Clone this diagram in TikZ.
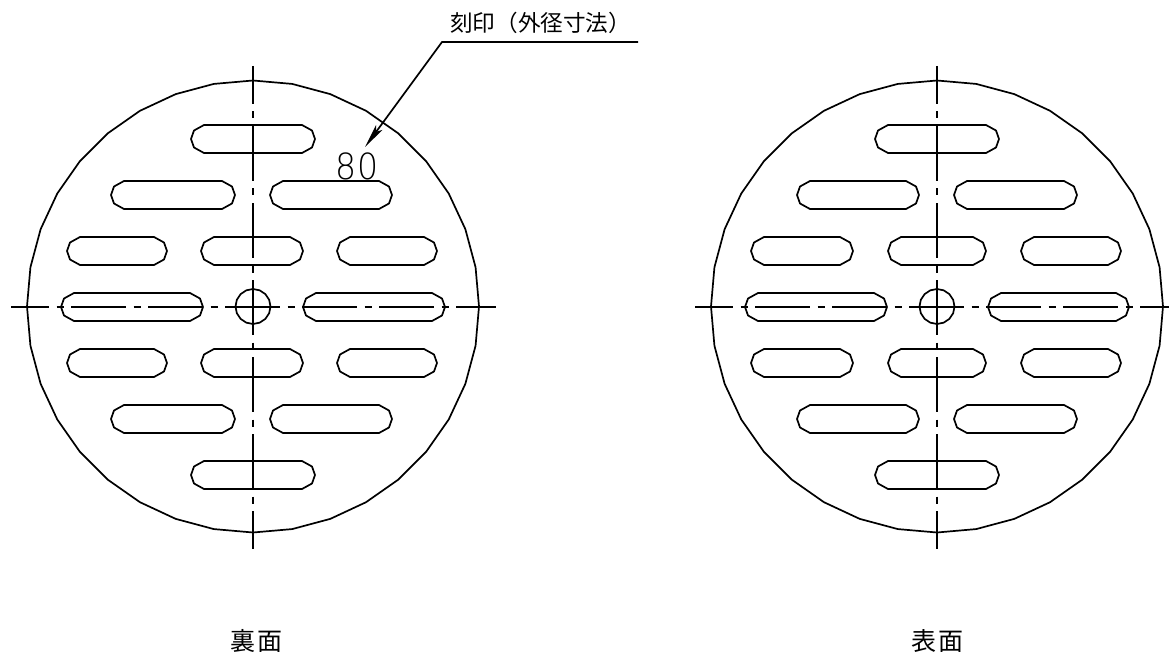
\documentclass[tikz,border=0pt]{standalone}
\usepackage{fontspec}
\usetikzlibrary{calc,arrows.meta}
\newfontfamily\cjk{Noto Sans CJK JP}
\newfontfamily\digits{DejaVu Sans ExtraLight}
\tikzset{
  part/.style={line width=1.7pt,line join=round},
  axis/.style={line width=1.9pt,dash pattern=on 55pt off 7.5pt on 7pt off 7.5pt,dash phase=17pt},
  leader/.style={line width=1.7pt,line join=miter},
  cap text/.style={inner sep=0pt,font=\cjk\fontsize{22.6pt}{24pt}\selectfont},
  view text/.style={inner sep=0pt,font=\cjk\fontsize{25pt}{27pt}\selectfont},
}
\newcommand{\slotat}[3]{%
  \draw[part] ({#1},#3) -- ({#1+3},#3-8.5) -- ({#1+13},#3-14) -- ({#2-13},#3-14) -- ({#2-3},#3-8.5) -- ({#2},#3)
    -- ({#2-3},#3+8.5) -- ({#2-13},#3+14) -- ({#1+13},#3+14) -- ({#1+3},#3+8.5) -- cycle;
}
\newcommand{\plate}[2]{%
  \coordinate (c#2) at (#1,306.5);
  \draw[part] ($(c#2)+(0:226)$)
    \foreach \a in {10,20,...,350}{ -- ($(c#2)+(\a:226)$) } -- cycle;
  \draw[part] ($(c#2)+(0:17.5)$)
    \foreach \a in {22.5,45,...,337.5}{ -- ($(c#2)+(\a:17.5)$) } -- cycle;
}
\begin{document}
\begin{tikzpicture}[x=1pt,y=-1pt]
\useasboundingbox (0,0) rectangle (1169,655);
% ---- left view
\plate{253}{L}
\slotat{191}{315}{139}
\slotat{111}{235}{195}\slotat{270}{392}{195}
\slotat{67}{167}{251}\slotat{201}{303}{251}\slotat{337}{437}{251}
\slotat{61}{203}{307}\slotat{303}{445}{307}
\slotat{67}{167}{363}\slotat{201}{303}{363}\slotat{337}{437}{363}
\slotat{111}{235}{419}\slotat{270}{392}{419}
\slotat{191}{315}{475}
\coordinate (lh0) at (11,307); \coordinate (lh1) at (496,307);
\coordinate (lv0) at (253,66); \coordinate (lv1) at (253,549);
\draw[axis] (lh0) -- (lh1);
\draw[axis] (lv0) -- (lv1);
% ---- right view
\plate{937}{R}
\slotat{875}{999}{139}
\slotat{797}{919}{195}\slotat{954}{1077}{195}
\slotat{751}{853}{251}\slotat{888}{986}{251}\slotat{1021}{1121}{251}
\slotat{745}{887}{307}\slotat{988}{1129}{307}
\slotat{751}{853}{363}\slotat{888}{986}{363}\slotat{1021}{1121}{363}
\slotat{797}{919}{419}\slotat{954}{1077}{419}
\slotat{875}{999}{475}
\coordinate (rh0) at (695,307); \coordinate (rh1) at (1169,307);
\coordinate (rv0) at (937,66); \coordinate (rv1) at (937,549);
\draw[axis] (rh0) -- (rh1);
\draw[axis] (rv0) -- (rv1);
% ---- stamp and leader
\node[inner sep=0pt,font=\digits\fontsize{36pt}{36pt}\selectfont,xscale=.92] (stamp) at (357,166) {8\hspace{1pt}0};
\node[cap text,anchor=west] (cap) at (450,23) {刻印（外径寸法）};
\coordinate (lead end) at (638,42);
\coordinate (lead knee) at (442,42);
\coordinate (lead tip) at (365,147);
\draw[leader,-{Stealth[length=24pt,width=8pt,inset=5pt]}] (lead end) -- (lead knee) -- (lead tip);
% ---- view captions
\node[view text] (back) at (256,641) {裏\hspace{2pt}面};
\node[view text] (front) at (937,641) {表\hspace{2pt}面};
\end{tikzpicture}
\end{document}
